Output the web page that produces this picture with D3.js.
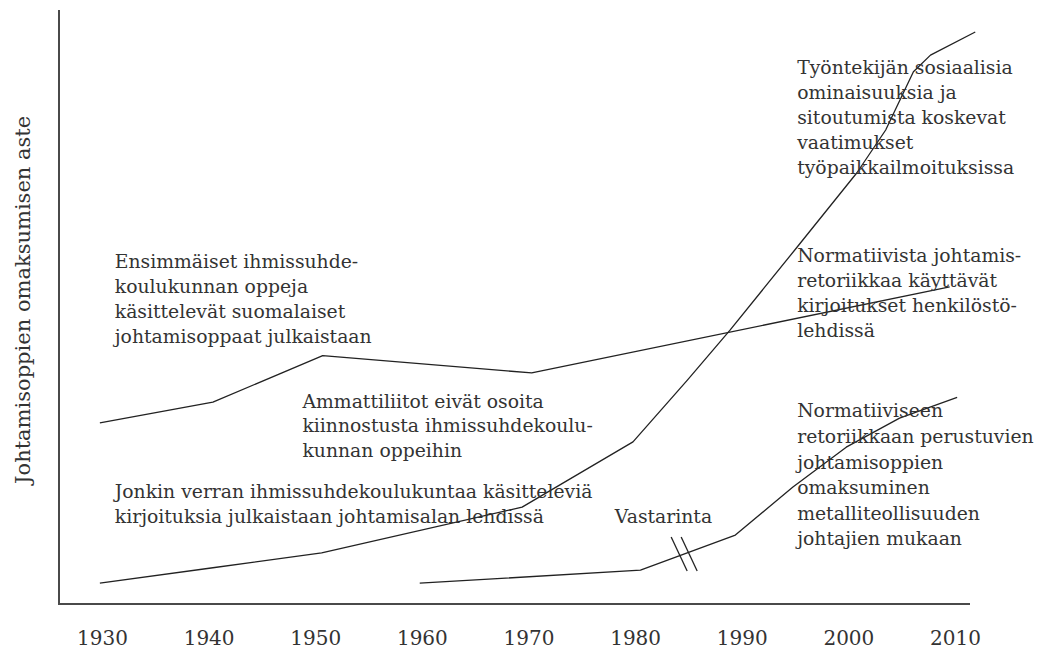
<!DOCTYPE html>
<html>
<head>
<meta charset="utf-8">
<script src="https://cdn.jsdelivr.net/npm/d3@7/dist/d3.min.js"></script>
<style>
  html, body { margin: 0; padding: 0; background: #fff; }
  svg { display: block; }
  .ann { font-family: "DejaVu Serif", serif; font-size: 18.8px; fill: #333; }
  .tick text { font-family: "DejaVu Serif", serif; font-size: 20px; fill: #333; }
</style>
</head>
<body>
<svg id="chart" width="1042" height="649"></svg>
<script>
// ---- data ----
const tickYears = [1930, 1940, 1950, 1960, 1970, 1980, 1990, 2000, 2010];
const tickLabels = ["1930", "1940", "1950", "1960", "1970", "1980", "1990", "2000", "2010"];
const yAxisTitle = "Johtamisoppien omaksumisen aste";

// Line: Ensimmäiset ihmissuhdekoulukunnan ... / Normatiivista johtamisretoriikkaa ...
const line1Years  = [1929.8, 1940.4, 1950.7, 1970.3, 2009.5];
const line1Values = [30.5, 34.0, 41.8, 38.9, 53.4];

// Line: Jonkin verran ... / Työntekijän sosiaalisia ominaisuuksia ...
const line2Years  = [1929.8, 1940.4, 1950.6, 1969.4, 1979.8, 1984.9, 1988.9, 1995.2, 2000.8, 2003.5, 2006.1, 2007.7, 2011.9];
const line2Values = [3.5, 6.1, 8.6, 16.3, 27.3, 37.7, 46.1, 60.1, 72.6, 79.8, 89.6, 92.4, 96.3];

// Line: Vastarinta / Normatiiviseen retoriikkaan perustuvien ...
const line3Years  = [1959.8, 1980.5, 1989.4, 1994.8, 1999.8, 2004.8, 2010.2];
const line3Values = [3.5, 5.7, 11.6, 19.7, 26.4, 31.3, 34.8];

const breakYear = 1984.6;

const annotationYears  = [1931.2, 1948.8, 1931.2, 1978.1, 1995.2, 1995.2, 1995.2];
const annotationValues = [56.5, 33.0, 17.8, 13.6, 89.2, 57.6, 31.4];
const annotationTexts = [
  ["Ensimmäiset ihmissuhde-", "koulukunnan oppeja", "käsittelevät suomalaiset", "johtamisoppaat julkaistaan"],
  ["Ammattiliitot eivät osoita", "kiinnostusta ihmissuhdekoulu-", "kunnan oppeihin"],
  ["Jonkin verran ihmissuhdekoulukuntaa käsitteleviä", "kirjoituksia julkaistaan johtamisalan lehdissä"],
  ["Vastarinta"],
  ["Työntekijän sosiaalisia", "ominaisuuksia ja", "sitoutumista koskevat", "vaatimukset", "työpaikkailmoituksissa"],
  ["Normatiivista johtamis-", "retoriikkaa käyttävät", "kirjoitukset henkilöstö-", "lehdissä"],
  ["Normatiiviseen", "retoriikkaan perustuvien", "johtamisoppien", "omaksuminen", "metalliteollisuuden", "johtajien mukaan"]
];

// ---- layout ----
const lineHeights = [25, 24.5, 25, 25, 25, 25, 25.6];
const svg = d3.select("#chart");
const axisLeftX = 59, axisTopY = 10, axisBottomY = 604, axisRightX = 970;

const x = d3.scaleLinear().domain([1930, 2010]).range([102, 955]);
const y = d3.scaleLinear().domain([0, 100]).range([axisBottomY, axisTopY]);

// axes frame
svg.append("line")
  .attr("x1", axisLeftX).attr("x2", axisLeftX)
  .attr("y1", axisTopY).attr("y2", axisBottomY + 1)
  .attr("stroke", "#4a4a4a").attr("stroke-width", 2);
svg.append("line")
  .attr("x1", axisLeftX - 1).attr("x2", axisRightX)
  .attr("y1", axisBottomY).attr("y2", axisBottomY)
  .attr("stroke", "#4a4a4a").attr("stroke-width", 2);

// x tick labels via d3 axis
const xAxis = d3.axisBottom(x)
  .tickValues(tickYears)
  .tickFormat((d, i) => tickLabels[i])
  .tickSize(0)
  .tickPadding(0);
const gx = svg.append("g")
  .attr("transform", `translate(0, ${axisBottomY})`)
  .call(xAxis);
gx.select(".domain").remove();
gx.selectAll(".tick text")
  .attr("dy", null)
  .attr("y", 41)
  .attr("font-family", null)
  .attr("font-size", null);

// y axis title
svg.append("text")
  .attr("class", "ann")
  .attr("transform", `translate(30, ${y(51.2)}) rotate(-90)`)
  .attr("text-anchor", "middle")
  .style("font-size", "21px")
  .text(yAxisTitle);

// lines
const lineGen = d3.line().x(d => x(d[0])).y(d => y(d[1]));
const series = [
  d3.zip(line1Years, line1Values),
  d3.zip(line2Years, line2Values),
  d3.zip(line3Years, line3Values)
];
svg.selectAll("path.series")
  .data(series)
  .enter().append("path")
  .attr("class", "series")
  .attr("d", lineGen)
  .attr("fill", "none")
  .attr("stroke", "#222")
  .attr("stroke-width", 1.3)
  .attr("stroke-linejoin", "round");

// break marks on line 3
const bi = d3.bisectLeft(line3Years, breakYear);
const t = (breakYear - line3Years[bi - 1]) / (line3Years[bi] - line3Years[bi - 1]);
const bVal = line3Values[bi - 1] + t * (line3Values[bi] - line3Values[bi - 1]);
const bx = x(breakYear), by = y(bVal);
[-5, 5].forEach(off => {
  svg.append("line")
    .attr("x1", bx + off - 8).attr("y1", by - 17)
    .attr("x2", bx + off + 8).attr("y2", by + 17)
    .attr("stroke", "#222").attr("stroke-width", 1.3);
});

// annotations
annotationTexts.forEach((lines, k) => {
  const ax = x(annotationYears[k]);
  const txt = svg.append("text")
    .attr("class", "ann")
    .attr("x", ax)
    .attr("y", y(annotationValues[k]));
  lines.forEach((l, i) => {
    txt.append("tspan")
      .attr("x", ax)
      .attr("dy", i === 0 ? 0 : lineHeights[k])
      .text(l);
  });
});
</script>
</body>
</html>
